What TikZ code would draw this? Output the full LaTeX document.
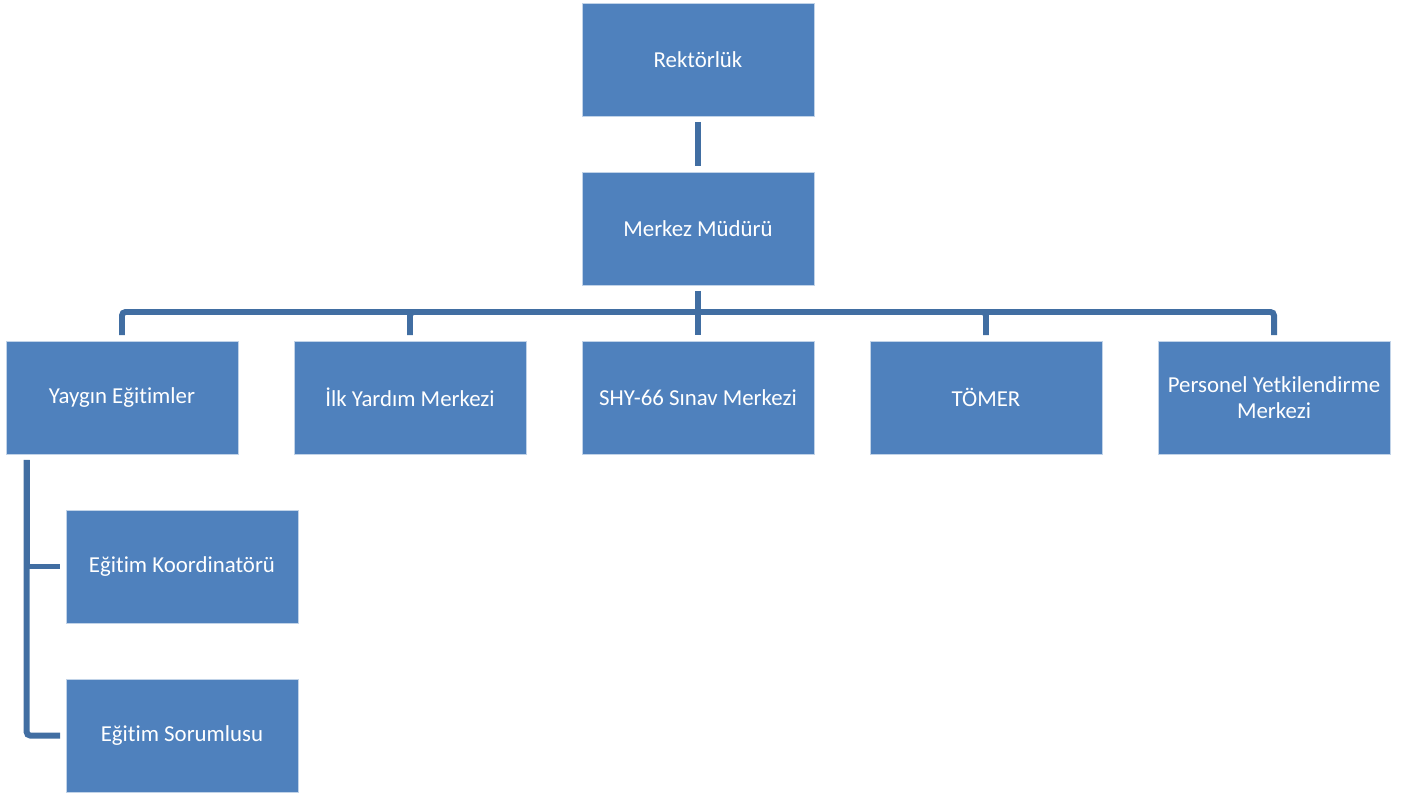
\documentclass[tikz,border=0pt]{standalone}
\usepackage{fontspec}
\setmainfont[Ligatures=NoCommon]{Carlito}
\definecolor{boxblue}{RGB}{79,129,189}
\definecolor{lineblue}{RGB}{65,110,162}
\begin{document}
\begin{tikzpicture}[x=0.02cm,y=-0.02cm,
  unit/.style={rectangle,fill=boxblue,draw=boxblue!35!white,line width=0.4pt,
    minimum width=4.64cm,minimum height=2.26cm,inner sep=0pt,
    text=white,font=\fontsize{13}{15}\selectfont,align=center},
  link/.style={draw=lineblue,line width=3.4pt,shorten <=0.11cm,shorten >=0.11cm}]
\useasboundingbox (0,0) rectangle (1413,792);
% Draw top units
\node[unit] (rektor) at (698,59.5) {Rektörlük};
\node[unit] (mudur) at (698,228.5) {Merkez Müdürü};
% Draw centres
\node[unit] (yaygin) at (122,397.5) {Yaygın Eğitimler};
\node[unit] (ilkyardim) at (410,397.5) {İlk Yardım Merkezi};
\node[unit] (shy) at (698,397.5) {SHY-66 Sınav Merkezi};
\node[unit] (tomer) at (986,397.5) {TÖMER};
\node[unit] (personel) at (1274,397.5) {Personel Yetkilendirme\\Merkezi};
% Draw staff under Yaygin Egitimler
\node[unit] (koord) at (182,566.5) {Eğitim Koordinatörü};
\node[unit] (sorumlu) at (182,735.5) {Eğitim Sorumlusu};
% Draw links
\coordinate (bar) at (698,312);
\draw[link] (rektor) -- (mudur);
\draw[link] (mudur) -- (shy);
\foreach \c in {yaygin,ilkyardim,tomer,personel}
  \draw[link,shorten <=0pt,rounded corners=2pt] (bar) -| (\c);
\coordinate (stem) at ([xshift=0.42cm]yaygin.south west);
\draw[link] (stem) |- (koord);
\draw[link,rounded corners=2pt] (stem) |- (sorumlu);
\end{tikzpicture}
\end{document}
